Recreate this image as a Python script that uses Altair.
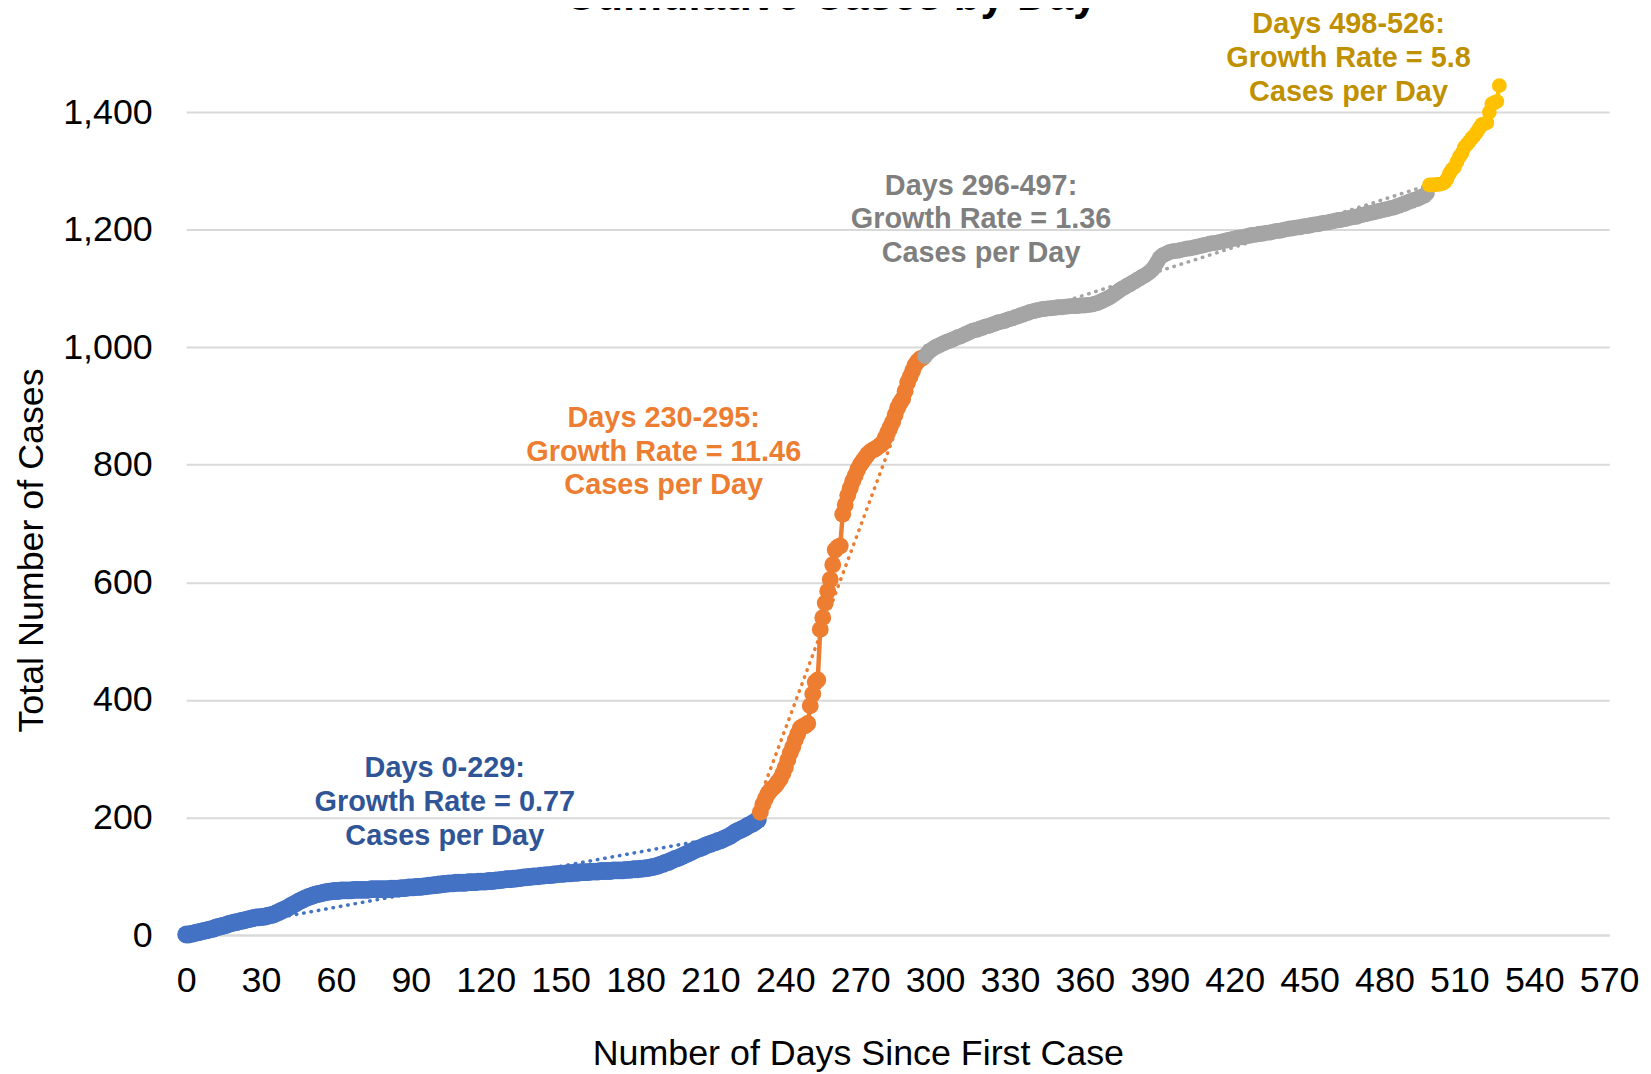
import altair as alt
import pandas as pd

FONT = "Liberation Sans"

# ---- data (cumulative cases per day) ----
blue_cases = [
    1, 1, 2, 3, 4, 5, 6, 7, 8, 9,
    10, 11, 13, 14, 15, 16, 17, 19, 20, 21,
    22, 23, 24, 25, 26, 27, 28, 29, 30, 30,
    31, 31, 32, 33, 34, 35, 37, 39, 41, 43,
    45, 47, 50, 52, 54, 57, 59, 61, 63, 65,
    66, 68, 69, 70, 71, 72, 73, 74, 74, 75,
    75, 75, 76, 76, 76, 76, 76, 77, 77, 77,
    77, 77, 77, 77, 78, 78, 78, 78, 78, 78,
    78, 78, 79, 79, 79, 79, 80, 80, 80, 81,
    81, 81, 82, 82, 82, 83, 83, 84, 84, 85,
    85, 86, 86, 87, 87, 88, 88, 88, 89, 89,
    89, 89, 89, 90, 90, 90, 90, 91, 91, 91,
    91, 92, 92, 92, 93, 93, 94, 94, 95, 95,
    95, 96, 96, 97, 97, 98, 98, 99, 99, 100,
    100, 100, 101, 101, 102, 102, 102, 103, 103, 104,
    104, 104, 105, 105, 105, 106, 106, 106, 107, 107,
    107, 107, 108, 108, 108, 108, 109, 109, 109, 109,
    109, 110, 110, 110, 110, 110, 111, 111, 111, 112,
    112, 112, 113, 113, 114, 114, 115, 116, 117, 118,
    120, 121, 123, 124, 126, 128, 130, 131, 133, 135,
    137, 139, 141, 143, 145, 147, 148, 150, 152, 154,
    155, 157, 158, 160, 161, 163, 165, 167, 169, 172,
    175, 177, 179, 181, 183, 186, 188, 190, 193, 196,
]
orange_cases = [
    209, 222, 232, 240, 246, 250, 254, 260, 266, 275,
    285, 298, 310, 320, 332, 342, 352, 355, 356, 360,
    390, 410, 430, 434, 520, 540, 565, 585, 605, 630,
    655, 660, 662, 716, 732, 748, 760, 772, 782, 792,
    800, 806, 812, 818, 822, 825, 827, 830, 833, 837,
    846, 855, 864, 873, 885, 897, 905, 912, 925, 940,
    950, 960, 970, 976, 980, 982,
]
gray_cases = [
    985, 990, 994, 997, 1000, 1002, 1004, 1006, 1008, 1010,
    1011, 1013, 1015, 1017, 1018, 1020, 1022, 1024, 1026, 1028,
    1029, 1030, 1032, 1033, 1035, 1036, 1037, 1039, 1040, 1042,
    1043, 1044, 1045, 1047, 1048, 1049, 1051, 1052, 1054, 1055,
    1057, 1058, 1060, 1061, 1062, 1063, 1064, 1065, 1065, 1066,
    1066, 1067, 1067, 1068, 1068, 1068, 1069, 1069, 1070, 1070,
    1070, 1070, 1071, 1071, 1071, 1072, 1072, 1073, 1074, 1075,
    1077, 1079, 1081, 1083, 1085, 1088, 1091, 1094, 1097, 1100,
    1102, 1105, 1107, 1110, 1112, 1115, 1117, 1120, 1122, 1125,
    1128, 1132, 1138, 1145, 1152, 1156, 1158, 1160, 1162, 1163,
    1164, 1164, 1165, 1166, 1167, 1168, 1168, 1169, 1170, 1171,
    1172, 1173, 1174, 1175, 1176, 1177, 1177, 1178, 1179, 1180,
    1181, 1182, 1183, 1184, 1185, 1186, 1187, 1187, 1188, 1189,
    1190, 1191, 1191, 1192, 1193, 1193, 1194, 1195, 1195, 1196,
    1197, 1198, 1198, 1199, 1200, 1201, 1202, 1202, 1203, 1204,
    1204, 1205, 1206, 1206, 1207, 1208, 1209, 1209, 1210, 1211,
    1212, 1212, 1213, 1214, 1215, 1216, 1216, 1217, 1218, 1219,
    1220, 1221, 1222, 1222, 1224, 1225, 1226, 1227, 1228, 1229,
    1230, 1231, 1232, 1233, 1234, 1235, 1236, 1237, 1238, 1240,
    1241, 1243, 1244, 1246, 1248, 1249, 1251, 1252, 1254, 1256,
    1258, 1262,
]
yellow_cases = [
    1276, 1276, 1276, 1277, 1277, 1278, 1280, 1286, 1295, 1302,
    1306, 1315, 1324, 1330, 1340, 1345, 1350, 1356, 1360, 1366,
    1373, 1379, 1380, 1382, 1400, 1414, 1416, 1418, 1445,
]

segment_names = ["Days 0-229", "Days 230-295", "Days 296-497", "Days 498-526"]
segment_starts = [0, 230, 296, 498]
segment_values = [blue_cases, orange_cases, gray_cases, yellow_cases]

# dotted linear trend lines: end points
trend_start_day = [0, 230, 296, 498]
trend_end_day = [229, 295, 497, 526]
trend_start_cases = [1, 236, 1002, 1257]
trend_end_cases = [178, 981, 1275, 1419]

marker_colors = ["#4472C4", "#ED7D31", "#A5A5A5", "#FFC000"]
marker_sizes = [320, 220, 310, 260]
text_colors = ["#2F5597", "#ED7D31", "#7F7F7F", "#BF9000"]
growth_rates = ["0.77", "11.46", "1.36", "5.8"]
label_days = [103.6, 191.3, 318.4, 465.6]
label_cases = [284, 880, 1275, 1550]
x_ticks = list(range(0, 571, 30))
y_ticks = list(range(0, 1401, 200))

rows = []
for name, start, vals in zip(segment_names, segment_starts, segment_values):
    for i, v in enumerate(vals):
        rows.append({"day": start + i, "cases": v, "segment": name})
df = pd.DataFrame(rows)

trows = []
for name, d0, d1, c0, c1 in zip(segment_names, trend_start_day, trend_end_day,
                                trend_start_cases, trend_end_cases):
    trows.append({"day": d0, "cases": c0, "segment": name})
    trows.append({"day": d1, "cases": c1, "segment": name})
tdf = pd.DataFrame(trows)

ann = pd.DataFrame({
    "day": label_days,
    "cases": label_cases,
    "label": [f"{n}:\nGrowth Rate = {g}\nCases per Day" for n, g in zip(segment_names, growth_rates)],
    "color": text_colors,
})

color = alt.Color("segment:N", scale=alt.Scale(domain=segment_names, range=marker_colors), legend=None)

PLOT_W = 1430
PLOT_H = 827

x_enc = alt.X(
    "day:Q",
    scale=alt.Scale(domain=[0, 570], nice=False, zero=False),
    axis=alt.Axis(
        values=x_ticks, title="Number of Days Since First Case", grid=False,
        ticks=False, tickSize=0, labelPadding=46, labelBaseline="middle",
        labelFontSize=36, labelFont=FONT, labelColor="#000000",
        labelFlush=False, labelOverlap=False,
        titleFontSize=36, titleFont=FONT, titleFontWeight="normal", titleColor="#000000",
        titleX=675, titleY=130, titleBaseline="alphabetic", titleAlign="center",
        domainColor="#D9D9D9", domainWidth=2,
    ),
)
y_enc = alt.Y(
    "cases:Q",
    scale=alt.Scale(domain=[0, 1400], nice=False),
    axis=alt.Axis(
        values=y_ticks, format=",d", title="Total Number of Cases",
        grid=True, gridColor="#D9D9D9", gridWidth=2, domain=False,
        ticks=False, tickSize=0, labelPadding=34,
        labelFontSize=36, labelFont=FONT, labelColor="#000000",
        titleFontSize=36, titleFont=FONT, titleFontWeight="normal", titleColor="#000000",
        titleX=-155, titleY=440, titleBaseline="middle", titleAlign="center", titleAngle=270,
    ),
)

base = alt.Chart(df)

trend = alt.Chart(tdf).mark_line(
    strokeDash=[0.5, 7], strokeCap="round", strokeWidth=3.5
).encode(x=x_enc, y=y_enc, color=color)

line = base.mark_line(strokeWidth=4.5).encode(
    x=x_enc, y=y_enc, color=color, order="day:Q"
)

points = base.mark_circle(opacity=1).encode(
    x=x_enc, y=y_enc, color=color,
    size=alt.Size("segment:N", scale=alt.Scale(domain=segment_names, range=marker_sizes), legend=None),
)

labels = alt.Chart(ann).mark_text(
    font=FONT, fontSize=29, fontWeight="bold", lineBreak="\n", lineHeight=34,
    align="center", baseline="middle",
).encode(
    x=alt.X("day:Q"), y=alt.Y("cases:Q"), text="label:N",
    color=alt.Color("color:N", scale=None),
)

chart = alt.layer(trend, line, points, labels).properties(
    width=PLOT_W,
    height=PLOT_H,
    autosize=alt.AutoSizeParams(type="none"),
    padding={"left": 179, "top": 102, "right": 34, "bottom": 135},
    title=alt.TitleParams(
        "Cumulative Cases by Day", font=FONT, fontSize=44, fontWeight="bold",
        color="#000000", anchor="middle", baseline="alphabetic", offset=0, dx=-67, dy=44,
    ),
).configure_view(stroke=None)

chart.save("out.html", embed_options={"renderer": "svg", "actions": False})
